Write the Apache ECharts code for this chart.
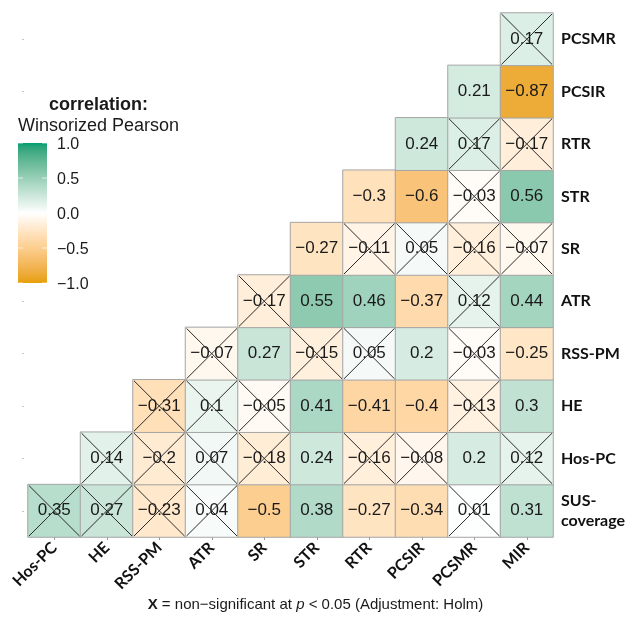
<!DOCTYPE html>
<html>
<head>
<meta charset="utf-8">
<style>
  html, body { margin: 0; padding: 0; background: #ffffff; }
  #chart { width: 631px; height: 623px; }
</style>
<script src="https://cdn.jsdelivr.net/npm/echarts@6/dist/echarts.min.js"></script>
</head>
<body>
<div id="chart"></div>
<script>
// Variables along the bottom (columns) and along the right side (rows, bottom to top)
const xLabels = ['Hos-PC', 'HE', 'RSS-PM', 'ATR', 'SR', 'STR', 'RTR', 'PCSIR', 'PCSMR', 'MIR'];
const yLabels = ['SUS-coverage', 'Hos-PC', 'HE', 'RSS-PM', 'ATR', 'SR', 'STR', 'RTR', 'PCSIR', 'PCSMR'];

// Correlations per row; row k holds columns k..9 (lower triangle)
const rSUScoverage = [0.35, 0.27, -0.23, 0.04, -0.5, 0.38, -0.27, -0.34, 0.01, 0.31];
const rHosPC       = [0.14, -0.2, 0.07, -0.18, 0.24, -0.16, -0.08, 0.2, 0.12];
const rHE          = [-0.31, 0.1, -0.05, 0.41, -0.41, -0.4, -0.13, 0.3];
const rRSSPM       = [-0.07, 0.27, -0.15, 0.05, 0.2, -0.03, -0.25];
const rATR         = [-0.17, 0.55, 0.46, -0.37, 0.12, 0.44];
const rSR          = [-0.27, -0.11, 0.05, -0.16, -0.07];
const rSTR         = [-0.3, -0.6, -0.03, 0.56];
const rRTR         = [0.24, 0.17, -0.17];
const rPCSIR       = [0.21, -0.87];
const rPCSMR       = [0.17];

// 1 = non-significant after Holm adjustment (drawn with a cross)
const nsSUScoverage = [1, 1, 1, 1, 0, 0, 0, 0, 1, 0];
const nsHosPC       = [1, 1, 1, 1, 0, 1, 1, 0, 1];
const nsHE          = [1, 1, 1, 0, 0, 0, 1, 0];
const nsRSSPM       = [1, 0, 1, 1, 0, 1, 0];
const nsATR         = [1, 0, 0, 0, 1, 0];
const nsSR          = [0, 1, 1, 1, 1];
const nsSTR         = [0, 0, 1, 0];
const nsRTR         = [0, 1, 1];
const nsPCSIR       = [0, 0];
const nsPCSMR       = [1];

// Colour bar tick labels
const legendTicks = [1.0, 0.5, 0.0, -0.5, -1.0];

const rowValues = [rSUScoverage, rHosPC, rHE, rRSSPM, rATR, rSR, rSTR, rRTR, rPCSIR, rPCSMR];
const rowFlags  = [nsSUScoverage, nsHosPC, nsHE, nsRSSPM, nsATR, nsSR, nsSTR, nsRTR, nsPCSIR, nsPCSMR];

const cells = [];
const crosses = [];
rowValues.forEach(function (vals, row) {
  vals.forEach(function (v, k) {
    const col = row + k;
    cells.push([col, row, v]);
    if (rowFlags[row][k]) crosses.push([col, row]);
  });
});

const fmtNum = function (v) { return String(v).replace('-', '\u2212'); };

// ---- diverging palette interpolated in CIELAB (low -> mid -> high) ----
function hexToRgb(h) { return [parseInt(h.substr(1, 2), 16), parseInt(h.substr(3, 2), 16), parseInt(h.substr(5, 2), 16)]; }
function toLin(c) { c /= 255; return c <= 0.04045 ? c / 12.92 : Math.pow((c + 0.055) / 1.055, 2.4); }
function fromLin(c) { const v = c <= 0.0031308 ? 12.92 * c : 1.055 * Math.pow(c, 1 / 2.4) - 0.055; return Math.max(0, Math.min(255, Math.round(v * 255))); }
const WX = 0.95047, WY = 1.0, WZ = 1.08883;
function fLab(t) { return t > 0.008856 ? Math.cbrt(t) : 7.787 * t + 16 / 116; }
function fInv(t) { return t > 0.206893 ? t * t * t : (t - 16 / 116) / 7.787; }
function rgbToLab(rgb) {
  const r = toLin(rgb[0]), g = toLin(rgb[1]), b = toLin(rgb[2]);
  const x = (0.4124 * r + 0.3576 * g + 0.1805 * b) / WX;
  const y = (0.2126 * r + 0.7152 * g + 0.0722 * b) / WY;
  const z = (0.0193 * r + 0.1192 * g + 0.9505 * b) / WZ;
  const fx = fLab(x), fy = fLab(y), fz = fLab(z);
  return [116 * fy - 16, 500 * (fx - fy), 200 * (fy - fz)];
}
function labToHex(lab) {
  const fy = (lab[0] + 16) / 116, fx = fy + lab[1] / 500, fz = fy - lab[2] / 200;
  const x = fInv(fx) * WX, y = fInv(fy) * WY, z = fInv(fz) * WZ;
  const r = 3.2406 * x - 1.5372 * y - 0.4986 * z;
  const g = -0.9689 * x + 1.8758 * y + 0.0415 * z;
  const b = 0.0557 * x - 0.2040 * y + 1.0570 * z;
  return '#' + [fromLin(r), fromLin(g), fromLin(b)].map(function (v) { return ('0' + v.toString(16)).slice(-2); }).join('');
}
function labRamp(c0, c1, n) {
  const a = rgbToLab(hexToRgb(c0)), b = rgbToLab(hexToRgb(c1)), out = [];
  for (let i = 0; i <= n; i++) {
    const t = i / n;
    out.push(labToHex([a[0] + (b[0] - a[0]) * t, a[1] + (b[1] - a[1]) * t, a[2] + (b[2] - a[2]) * t]));
  }
  return out;
}
const lowColor = '#E69F00', midColor = '#FFFFFF', highColor = '#009E73';
const ramp = labRamp(lowColor, midColor, 20).concat(labRamp(midColor, highColor, 20).slice(1));

// Colour bar geometry
const barLeft = 18, barTop = 143, barW = 29, barH = 140;
const tickY = function (v) { return barTop + (1 - (v + 1) / 2) * barH; };

const gradStops = ramp.map(function (c, i) { return { offset: 1 - i / (ramp.length - 1), color: c }; }).reverse();

const graphics = [
  { type: 'text', left: 49, top: 96, style: { text: 'correlation:', font: 'bold 18px "Liberation Sans", Arial, sans-serif', fill: '#1a1a1a' } },
  { type: 'text', left: 18, top: 117, style: { text: 'Winsorized Pearson', font: '18px "Liberation Sans", Arial, sans-serif', fill: '#1a1a1a' } },
  { type: 'rect', shape: { x: barLeft, y: barTop, width: barW, height: barH },
    style: { fill: new echarts.graphic.LinearGradient(0, 0, 0, 1, gradStops) }, z: 5 }
];
legendTicks.forEach(function (t) {
  const y = tickY(t);
  graphics.push({ type: 'text', x: 57, y: y + 2, style: { text: (t < 0 ? '\u2212' : '') + Math.abs(t).toFixed(1), font: '16px "Liberation Sans", Arial, sans-serif', fill: '#1a1a1a', verticalAlign: 'middle', align: 'left' }, z: 10 });
  graphics.push({ type: 'line', shape: { x1: barLeft, y1: y, x2: barLeft + 5, y2: y }, style: { stroke: 'rgba(255,255,255,0.7)', lineWidth: 1 }, z: 10 });
  graphics.push({ type: 'line', shape: { x1: barLeft + barW - 5, y1: y, x2: barLeft + barW, y2: y }, style: { stroke: 'rgba(255,255,255,0.7)', lineWidth: 1 }, z: 10 });
});
graphics.push({
  type: 'text', left: 'center', top: 597,
  style: {
    text: '{b|X} = non\u2212significant at {i|p} < 0.05 (Adjustment: Holm)',
    font: '15px "Liberation Sans", Arial, sans-serif', fill: '#1a1a1a',
    rich: {
      b: { fontWeight: 'bold', fontSize: 15, fontFamily: '"Liberation Sans", Arial, sans-serif', fill: '#1a1a1a' },
      i: { fontStyle: 'italic', fontSize: 15, fontFamily: '"Liberation Sans", Arial, sans-serif', fill: '#1a1a1a' }
    }
  }
});

const chart = echarts.init(document.getElementById('chart'), null, { renderer: 'canvas' });
chart.setOption({
  backgroundColor: '#ffffff',
  animation: false,
  grid: { left: 28, right: 78, top: 13, bottom: 86, containLabel: false, outerBoundsMode: 'none' },
  xAxis: {
    type: 'category', data: xLabels, position: 'bottom',
    axisLine: { show: false },
    axisTick: { show: true, length: 3, alignWithLabel: true, lineStyle: { color: '#999' } },
    splitLine: { show: false },
    axisLabel: { rotate: 45, margin: 8, fontFamily: 'Lato, sans-serif', fontWeight: 'bold', fontSize: 16, color: '#111' }
  },
  yAxis: [{
    type: 'category', data: yLabels, position: 'right',
    axisLine: { show: false },
    axisTick: { show: false },
    splitLine: { show: false },
    axisLabel: {
      margin: 8, fontFamily: 'Lato, sans-serif', fontWeight: 'bold', fontSize: 16, color: '#111', lineHeight: 20,
      formatter: function (v) { return v === 'SUS-coverage' ? 'SUS-\ncoverage' : v; }
    }
  }, {
    type: 'category', data: yLabels, position: 'left', offset: 4,
    axisLine: { show: false },
    axisTick: { show: true, length: 2, alignWithLabel: true, lineStyle: { color: '#c4c4c4' } },
    splitLine: { show: false },
    axisLabel: { show: false }
  }],
  visualMap: {
    type: 'continuous', min: -1, max: 1, seriesIndex: 0, show: false,
    inRange: { color: ramp }
  },
  graphic: graphics,
  series: [{
    type: 'heatmap', data: cells,
    itemStyle: { borderColor: '#a4a4a4', borderWidth: 1 },
    label: {
      show: true, color: '#1a1a1a', fontSize: 17, fontFamily: '"Liberation Sans", Arial, sans-serif',
      formatter: function (p) { return fmtNum(p.value[2]); }
    },
    emphasis: { disabled: true }
  }, {
    type: 'custom', data: crosses, z: 5, silent: true,
    renderItem: function (params, api) {
      const c = api.coord([api.value(0), api.value(1)]);
      const s = api.size([1, 1]);
      const hw = s[0] / 2 - 1, hh = s[1] / 2 - 1;
      const st = { stroke: '#2b2b2b', lineWidth: 1 };
      return {
        type: 'group',
        children: [
          { type: 'line', shape: { x1: c[0] - hw, y1: c[1] - hh, x2: c[0] + hw, y2: c[1] + hh }, style: st },
          { type: 'line', shape: { x1: c[0] - hw, y1: c[1] + hh, x2: c[0] + hw, y2: c[1] - hh }, style: st }
        ]
      };
    }
  }]
});
</script>
</body>
</html>
